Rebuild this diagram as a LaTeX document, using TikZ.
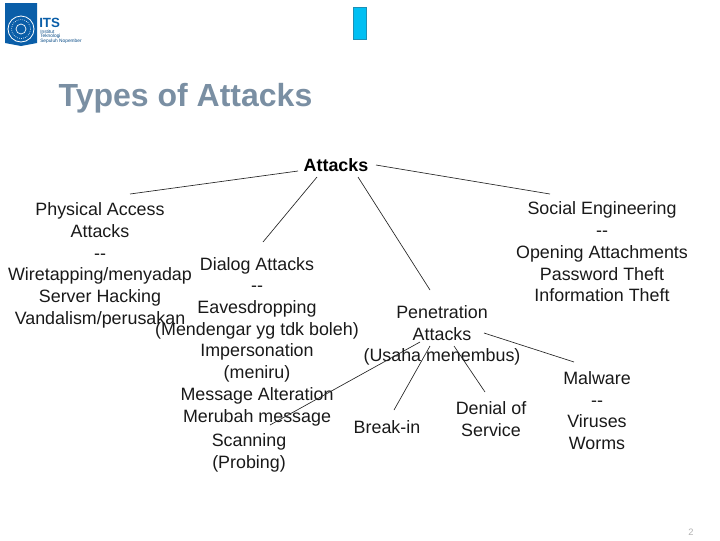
\documentclass[tikz,border=0pt]{standalone}
\usepackage{fontspec}
\setmainfont{Liberation Sans}
\definecolor{titlegrey}{HTML}{7A8FA3}
\definecolor{logoblue}{HTML}{0A5EA8}
\definecolor{tabcyan}{HTML}{00BFF3}
\definecolor{tabedge}{HTML}{1C8FB5}
\tikzset{
  txt/.style={align=center,inner sep=0pt,text=black!90,font=\fontsize{13.4}{16.3}\selectfont},
  rootnode/.style={inner sep=0pt,text=black,font=\fontsize{13.4}{16.3}\selectfont\bfseries},
  link/.style={draw=black!85,line width=0.5pt},
}
\begin{document}
\begin{tikzpicture}[x=0.75pt,y=-0.75pt]
\useasboundingbox (0,0) rectangle (720,540);
% logo
\fill[logoblue] (5,3) -- (37,3) -- (37,43) -- (21,46) -- (5,43) -- cycle;
\draw[white,line width=0.6pt] (21,29) circle (13);
\draw[white,line width=0.5pt,densely dotted] (21,29) circle (9.5);
\draw[white,line width=0.5pt] (21,29) circle (5);
\node[inner sep=0pt,anchor=west,text=logoblue,font=\fontsize{10}{10}\selectfont\bfseries] (its) at (39,22.5) {ITS};
\node[inner sep=0pt,anchor=west,text=logoblue!80!black,align=left,font=\fontsize{3.6}{3.4}\selectfont] (itsname) at (40,36.5) {Institut\\Teknologi\\Sepuluh Nopember};
% tab
\filldraw[fill=tabcyan,draw=tabedge,line width=0.5pt] (353.5,7.5) rectangle (366.5,39.5);
% title
\node[inner sep=0pt,text=titlegrey,font=\fontsize{24}{28}\selectfont\bfseries] (title) at (185.5,98) {Types of Attacks};
% nodes
\node[rootnode] (root) at (336,165) {Attacks};
\node[txt] (phys) at (100,265.5) {Physical Access\\Attacks\\-{}-\\Wiretapping/menyadap\\Server Hacking\\Vandalism/perusakan};
\node[txt] (dialog) at (257,341.5) {Dialog Attacks\\-{}-\\Eavesdropping\\(Mendengar yg tdk boleh)\\Impersonation\\(meniru)\\Message Alteration\\Merubah message};
\node[txt] (scan) at (249,453) {Scanning\\(Probing)};
\node[txt] (social) at (602,252) {Social Engineering\\-{}-\\Opening Attachments\\Password Theft\\Information Theft};
\node[txt] (pen) at (442,335.5) {Penetration\\Attacks\\(Usaha menembus)};
\node[txt] (brk) at (387,427) {Break-in};
\node[txt] (dos) at (491,419) {Denial of\\Service};
\node[txt] (mal) at (597,410.5) {Malware\\-{}-\\Viruses\\Worms};
\node[inner sep=0pt,text=black!30,font=\fontsize{7}{8}\selectfont] (pg) at (691,532) {2};
% connector ends
\coordinate (rp) at (298,171); \coordinate (pe) at (130,194);
\coordinate (rd) at (317,177); \coordinate (de) at (263,242);
\coordinate (rn) at (358,177); \coordinate (ne) at (430,290);
\coordinate (rs) at (376,165); \coordinate (se) at (550,194);
\coordinate (pa) at (420,342); \coordinate (ae) at (270,425);
\coordinate (pb) at (430,346); \coordinate (be) at (394,410);
\coordinate (pc) at (454,346); \coordinate (ce) at (485,392);
\coordinate (pm) at (484,333); \coordinate (me) at (574,362);
% connectors
\draw[link] (rp) -- (pe);
\draw[link] (rd) -- (de);
\draw[link] (rn) -- (ne);
\draw[link] (rs) -- (se);
\draw[link] (pa) -- (ae);
\draw[link] (pb) -- (be);
\draw[link] (pc) -- (ce);
\draw[link] (pm) -- (me);
\end{tikzpicture}
\end{document}
